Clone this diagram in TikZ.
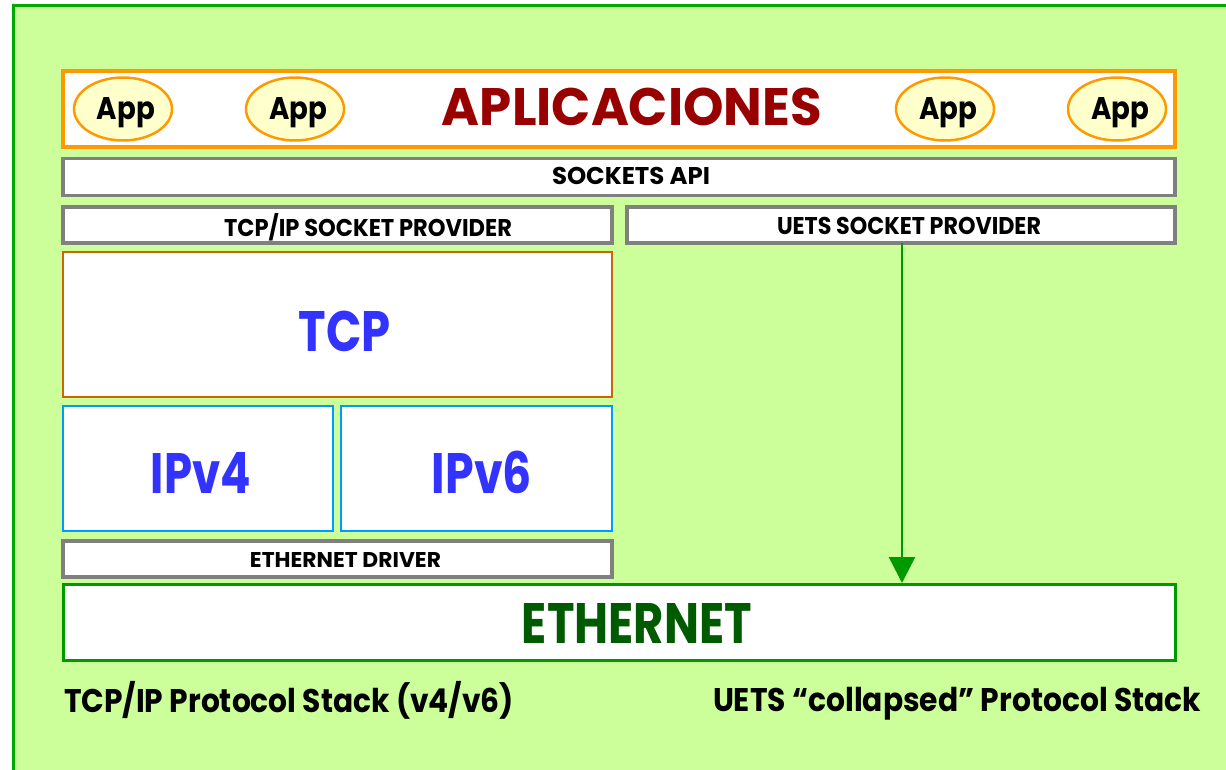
\documentclass[tikz,border=0pt]{standalone}
\usepackage{fontspec}
\setmainfont{Poppins}
\usetikzlibrary{arrows.meta,shapes.geometric}
\definecolor{bgc}{HTML}{CCFF99}
\definecolor{outerc}{RGB}{0,170,0}
\definecolor{orangec}{HTML}{FF9900}
\definecolor{appfill}{HTML}{FFFFCC}
\definecolor{grayc}{HTML}{808080}
\definecolor{tcpc}{HTML}{CC6600}
\definecolor{ipc}{HTML}{0099FF}
\definecolor{bluet}{HTML}{3333FF}
\definecolor{redt}{HTML}{990000}
\definecolor{ethc}{HTML}{009900}
\definecolor{etht}{HTML}{005A00}
\newcommand\fitt[3]{\resizebox{#1pt}{#2pt}{\smash{#3}\vphantom{H}}}
\tikzset{
  layer/.style={rectangle, draw, fill=white, inner sep=0pt, outer sep=0pt},
  appbox/.style={layer, draw=orangec, line width=3.5pt},
  graybox/.style={layer, draw=grayc, line width=3.5pt},
  tcpbox/.style={layer, draw=tcpc, line width=2.5pt},
  ipbox/.style={layer, draw=ipc, line width=2.5pt},
  ethbox/.style={layer, draw=ethc, line width=3pt},
  appell/.style={ellipse, draw=orangec, fill=appfill, line width=2.5pt, inner sep=0pt, outer sep=0pt, minimum width=98pt, minimum height=63pt},
  txt/.style={inner sep=0pt, outer sep=0pt, anchor=base, font=\bfseries},
  arrowc/.style={draw=ethc, line width=2.5pt, -{Triangle[width=26pt,length=26pt]}, shorten >=1pt},
}
\begin{document}
\begin{tikzpicture}[x=1pt,y=-1pt]
\useasboundingbox (0,0) rectangle (1226,769);
\begin{scope}
\clip (0,0) rectangle (1226,769);
\draw[draw=outerc, fill=bgc, line width=3pt] (13,5) rectangle (1240,785);
\end{scope}
% applications
\node[appbox, minimum width=1112pt, minimum height=76pt] (apps) at (619,109) {};
\node[appell] (app1) at (123,109) {};
\node[appell] (app2) at (295,109) {};
\node[appell] (app3) at (945,109) {};
\node[appell] (app4) at (1117,109) {};
\node[txt] (tapp1) at (126,119) {\fitt{58}{22}{App}};
\node[txt] (tapp2) at (298,119) {\fitt{58}{22}{App}};
\node[txt] (tapp3) at (948,119) {\fitt{58}{22}{App}};
\node[txt] (tapp4) at (1120,119) {\fitt{58}{22}{App}};
\node[txt, text=redt] (tapl) at (632,125) {\fitt{380}{37}{APLICACIONES}};
% sockets api
\node[graybox, minimum width=1112pt, minimum height=37pt] (sock) at (619,177) {};
\node[txt] (tsock) at (631,184) {\fitt{158}{17}{SOCKETS API}};
% providers
\node[graybox, minimum width=549pt, minimum height=36pt] (tcpprov) at (337.5,225) {};
\node[txt] (ttcpprov) at (368,236) {\fitt{288}{17}{TCP/IP SOCKET PROVIDER}};
\node[graybox, minimum width=548pt, minimum height=36pt] (uets) at (901,225) {};
\node[txt] (tuets) at (909,234) {\fitt{264}{17}{UETS SOCKET PROVIDER}};
% tcp
\node[tcpbox, minimum width=549pt, minimum height=145pt] (tcp) at (337.5,324.5) {};
\node[txt, text=bluet] (ttcp) at (345,351) {\fitt{92}{40}{TCP}};
% ip
\node[ipbox, minimum width=270pt, minimum height=125pt] (ipv4) at (198,468.5) {};
\node[ipbox, minimum width=271pt, minimum height=125pt] (ipv6) at (476.5,468.5) {};
\node[txt, text=bluet] (tipv4) at (201,493) {\fitt{100}{40}{IPv4}};
\node[txt, text=bluet] (tipv6) at (482,493) {\fitt{100}{40}{IPv6}};
% ethernet driver
\node[graybox, minimum width=549pt, minimum height=36pt] (drv) at (337.5,559) {};
\node[txt] (tdrv) at (345.5,567) {\fitt{191}{15}{ETHERNET DRIVER}};
% ethernet
\node[ethbox, minimum width=1112pt, minimum height=76pt] (eth) at (619,622) {};
\node[txt, text=etht] (teth) at (637,643) {\fitt{230}{40}{ETHERNET}};
% arrow
\coordinate (ax) at (902,0);
\draw[arrowc] (uets.south -| ax) -- (eth.north -| ax);
% bottom labels
\node[txt, anchor=base west] (lstack) at (64,712) {\fitt{450}{23}{TCP/IP Protocol Stack (v4/v6)}};
\node[txt, anchor=base west] (rstack) at (713,711) {\fitt{488}{23}{UETS “collapsed” Protocol Stack}};
\end{tikzpicture}
\end{document}
